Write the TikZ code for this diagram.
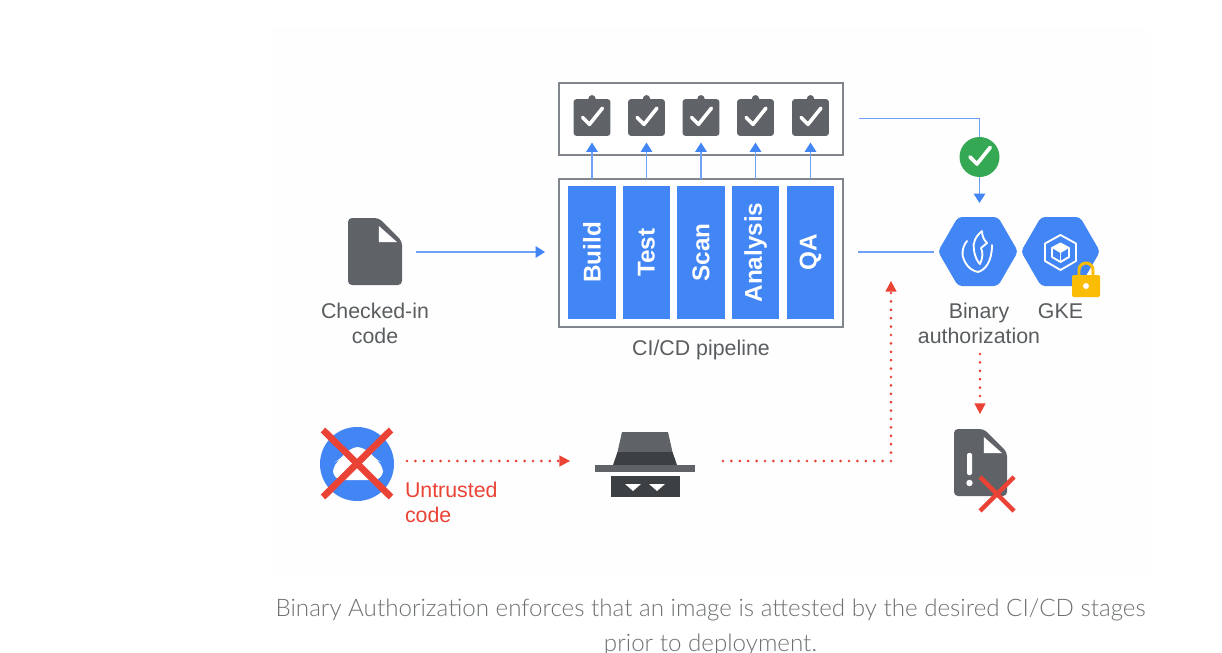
\documentclass[tikz,border=0pt]{standalone}
\usepackage{fontspec}
\setmainfont{Liberation Sans}
\newfontfamily\captionFont{Lato Light}
\usetikzlibrary{arrows.meta,calc}
\definecolor{googleBlue}{HTML}{4285F4}
\definecolor{lineBlue}{HTML}{6FA2F7}
\definecolor{googleRed}{HTML}{EA4335}
\definecolor{googleGreen}{HTML}{34A853}
\definecolor{googleYellow}{HTML}{FBBC04}
\definecolor{iconGray}{HTML}{5F6368}
\definecolor{darkGray}{HTML}{3C4043}
\definecolor{boxGray}{HTML}{80868B}
\definecolor{paleBack}{HTML}{FEFEFE}
\newcommand{\checkMark}[2]{%%
  \draw[white,line width=#2*0.75pt,line cap=round,line join=round]
    ($(#1)+(-#2*2.6,0)$) -- ($(#1)+(-#2*0.7,#2*1.9)$) -- ($(#1)+(#2*2.9,-#2*2.6)$);
}
\newcommand{\clipIcon}[2]{%%
  \node[clipStyle] (#1) at (#2) {};
  \fill[iconGray] ($(#1.north)+(0,-0.5)$) circle[radius=3.6];
  \checkMark{#1}{3.6}
}
\newcommand{\fileIcon}[5]{%%
  \fill[iconGray,rounded corners=3pt] (#1,#2) -- (#1,#4) -- (#3,#4) -- (#3,#2+#5*1.05) -- (#3-#5*1.05,#2) -- cycle;
  \fill[white] (#3-#5*1.05,#2+8) -- (#3-#5*1.05,#2+#5*1.05+1) -- (#3-5,#2+#5*1.05+1) -- cycle;
}
\begin{document}
\begin{tikzpicture}[%%
  x=0.75pt,y=-0.75pt,%%
  every node/.style={inner sep=0pt,outer sep=0pt},%%
  boxStyle/.style={draw=boxGray,line width=1.4pt,fill=white},%%
  stageStyle/.style={fill=googleBlue,text=white,rotate=90,minimum width=99.75pt,minimum height=35.5pt,font=\bfseries\fontsize{18.2}{22}\selectfont},%%
  clipStyle/.style={fill=iconGray,rounded corners=2pt,minimum size=27.5pt},%%
  labelStyle/.style={text=darkGray!85,align=center,font=\fontsize{16}{18.75}\selectfont},%%
  blueLine/.style={lineBlue,line width=1.3pt},%%
  blueArrow/.style={blueLine,-{Triangle[width=8.5pt,length=7pt,fill=googleBlue,color=googleBlue]}},%%
  redArrow/.style={googleRed,line width=2.2pt,line cap=round,dash pattern=on 0pt off 6.3pt,-{Triangle[width=8.5pt,length=8pt,line width=0pt,line cap=butt]}},%%
  hexStyle/.style={fill=googleBlue,rounded corners=3pt},%%
  crossStyle/.style={googleRed,line width=5pt},%%
  iconLine/.style={white,line width=1.4pt,line join=round,line cap=round}%%
]
\useasboundingbox (0,0) rectangle (1222,653);
\fill[paleBack] (270,28) rectangle (1150,575);
%%
%% The two boxes.
\node[boxStyle,minimum width=213.5pt,minimum height=53.5pt] (checkBox) at (701,119) {};
\node[boxStyle,minimum width=213.5pt,minimum height=111pt] (pipelineBox) at (701,253) {};
%% The stages.
\node[stageStyle] (stageBuild) at (592,252.5) {Build};
\node[stageStyle] (stageTest) at (646.5,252.5) {Test};
\node[stageStyle] (stageScan) at (701,252.5) {Scan};
\node[stageStyle] (stageAnalysis) at (755.5,252.5) {Analysis};
\node[stageStyle] (stageQa) at (810.5,252.5) {QA};
\node[labelStyle] (pipelineLabel) at (701,350) {CI/CD pipeline};
%% The checks.
\clipIcon{checkBuild}{592,117.5}
\clipIcon{checkTest}{646.5,117.5}
\clipIcon{checkScan}{701,117.5}
\clipIcon{checkAnalysis}{755.5,117.5}
\clipIcon{checkQa}{810.5,117.5}
\coordinate (tipBuild) at (592,142.5);
\coordinate (tipTest) at (646.5,142.5);
\coordinate (tipScan) at (701,142.5);
\coordinate (tipAnalysis) at (755.5,142.5);
\coordinate (tipQa) at (810.5,142.5);
\draw[blueArrow] (stageBuild |- pipelineBox.north) -- (tipBuild);
\draw[blueArrow] (stageTest |- pipelineBox.north) -- (tipTest);
\draw[blueArrow] (stageScan |- pipelineBox.north) -- (tipScan);
\draw[blueArrow] (stageAnalysis |- pipelineBox.north) -- (tipAnalysis);
\draw[blueArrow] (stageQa |- pipelineBox.north) -- (tipQa);
%%
%% Checked-in code.
\fileIcon{348}{218}{402}{285}{22}
\node[labelStyle] (fileLabel) at (375,323) {Checked-in\\code};
\coordinate (fileStart) at (416,252);
\coordinate (pipelineIn) at (545,252);
\draw[blueArrow] (fileStart) -- (pipelineIn);
%%
%% The hexagons.
\fill[hexStyle] (938,251.5) -- (958,217) -- (998,217) -- (1018,251.5) -- (998,286) -- (958,286) -- cycle;
\fill[hexStyle] (1021,251.5) -- (1041,217) -- (1080,217) -- (1100,251.5) -- (1080,286) -- (1041,286) -- cycle;
%% The shield.
\draw[iconLine] (967,241) .. controls (962,247) and (961,256) .. (965,262) .. controls (968,268) and (973,271) .. (978,272) .. controls (985,270) and (992,262) .. (992,245);
\draw[iconLine] (982,231) .. controls (976,236) and (972,243) .. (974,250) .. controls (975,258) and (978,262) .. (980,264) .. controls (983,258) and (983,252) .. (981,248) -- (987,243) .. controls (984,240) and (982,236) .. (982,231);
%% The cube.
\draw[iconLine] (1060.5,235) -- (1076,243.5) -- (1076,261) -- (1060.5,270) -- (1045,261) -- (1045,243.5) -- cycle;
\draw[iconLine] (1060.5,243.5) -- (1069,248) -- (1069,257) -- (1060.5,262) -- (1052,257) -- (1052,248) -- cycle;
\fill[white] (1060.5,243.5) -- (1069,248) -- (1060.5,253) -- (1052,248) -- cycle;
\draw[iconLine] (1060.5,253) -- (1060.5,262);
%% The lock.
\draw[googleYellow,line width=2.2pt] (1079,277) -- (1079,270) arc[start angle=180,end angle=360,radius=7] -- (1093,277);
\fill[googleYellow,rounded corners=1pt] (1072,275) rectangle (1100,297);
\fill[white] (1086,286) circle[radius=3];
\node[labelStyle] (binaryLabel) at (979,323) {Binary\\authorization};
\node[labelStyle] (gkeLabel) at (1060.5,311) {GKE};
%%
%% Approval path.
\coordinate (checkOut) at (859,118.5);
\coordinate (approvalCorner) at (979.5,118.5);
\coordinate (approvalEnd) at (979.5,203);
\coordinate (pipelineOut) at (858,252);
\coordinate (binaryIn) at (934,252);
\draw[blueArrow] (checkOut) -- (approvalCorner) -- (approvalEnd);
\draw[blueLine] (pipelineOut) -- (binaryIn);
\node[circle,fill=googleGreen,minimum size=30pt] (okBadge) at (979.5,157) {};
\checkMark{okBadge}{3.7}
%%
%% Untrusted code.
\coordinate (untrustedCentre) at (357,464);
\fill[googleBlue] (untrustedCentre) circle[radius=37];
\fill[white,rounded corners=7pt] (333,480) -- (333,463) -- (343,458) -- (349,447) -- (366,447) -- (373,458) -- (383,463) -- (383,480) -- cycle;
\draw[crossStyle] (323,430) -- (391,497);
\draw[crossStyle] (391,430) -- (323,497);
\node[labelStyle,text=googleRed,align=left,anchor=west] (untrustedLabel) at (405,502.5) {Untrusted\\code};
%%
%% The spy.
\fill[iconGray] (622,432) -- (668,432) -- (672.5,452) -- (617.5,452) -- cycle;
\fill[darkGray] (617.5,452) -- (672.5,452) -- (677,465) -- (613,465) -- cycle;
\fill[iconGray] (595,465) rectangle (695,471.5);
\fill[darkGray] (611,476) rectangle (680,497);
\fill[white] (625,484) -- (641,484) -- (633,491) -- cycle;
\fill[white] (649,484) -- (665,484) -- (657,491) -- cycle;
\coordinate (untrustedOut) at (407,461);
\coordinate (spyIn) at (570,461);
\coordinate (spyOut) at (723,461);
\coordinate (spyCorner) at (891,461);
\coordinate (pipelineSide) at (891,281);
\draw[redArrow] (untrustedOut) -- (spyIn);
\draw[redArrow] (spyOut) -- (spyCorner) -- (pipelineSide);
%%
%% The rejected file.
\fileIcon{954}{429}{1007}{496}{22}
\fill[white,rounded corners=1pt] (967,453) rectangle (972,475);
\fill[white] (969.5,483) circle[radius=3.2];
\draw[googleRed,line width=3.4pt] (980,477) -- (1014,511);
\draw[googleRed,line width=3.4pt] (1014,477) -- (980,511);
\coordinate (binaryOut) at (980,354);
\coordinate (rejectIn) at (980,414);
\draw[redArrow] (binaryOut) -- (rejectIn);
%%
%% The caption.
\node[text=darkGray!75,align=center,font=\captionFont\fontsize{18.12}{26.25}\selectfont] (captionText) at (710.5,627) {Binary Authorization enforces that an image is attested by the desired CI/CD stages\\prior to deployment.};
\end{tikzpicture}
\end{document}
